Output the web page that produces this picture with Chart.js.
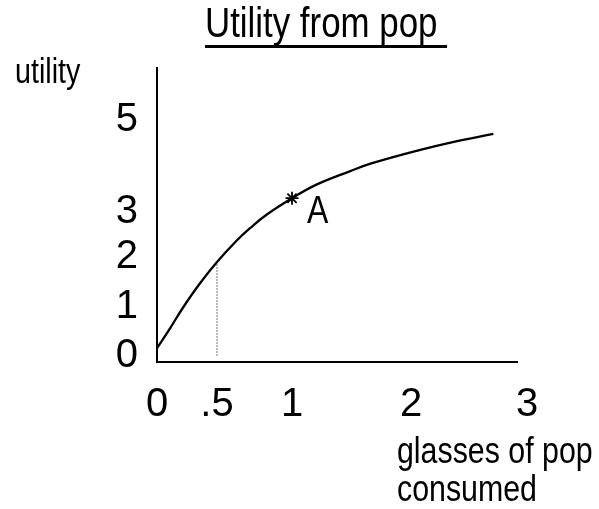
<!DOCTYPE html>
<html>
<head>
<meta charset="utf-8">
<script src="https://cdn.jsdelivr.net/npm/chart.js@4.4.1/dist/chart.umd.min.js"></script>
<style>
  html, body { margin: 0; padding: 0; background: #fff; }
  canvas { display: block; }
</style>
</head>
<body>
<canvas id="chart" width="599" height="509"></canvas>
<script>
// Utility curve: glasses of pop consumed vs. utility
const glasses = [0, 0.11, 0.22, 0.36, 0.5, 0.63, 0.72, 0.83, 1, 1.21, 1.49, 1.66, 2.08, 2.36, 2.71];
const utility = [0.16, 0.57, 1.0, 1.48, 1.9, 2.36, 2.64, 2.94, 3.3, 3.6, 3.89, 4.05, 4.35, 4.52, 4.70];

// Dropped guide from the curve down to the axis at half a glass
const guideGlasses = [0.5, 0.5];
const guideUtility = [0, 1.9];

// Marked point A
const pointAGlasses = [1];
const pointAUtility = [3.3];
const pointALabel = 'A';

// Axis ticks
const xTicks = [0, 0.5, 1, 2, 3];
const xTickLabels = ['0', '.5', '1', '2', '3'];
const yTicks = [0, 1, 2, 3, 5];
const yTickLabels = ['0', '1', '2', '3', '5'];

// Texts
const titleText = 'Utility from pop';
const yAxisText = 'utility';
const xAxisLines = ['glasses of pop', 'consumed'];

const FONT = "'Liberation Sans', Arial, sans-serif";
const NARROW = 0.82; // horizontal squeeze for the condensed captions

// Hand-spaced axes: each tick value sits at its own fraction of the axis,
// values in between are interpolated linearly.
const axisSpacing = {
  x: { values: xTicks, decimals: [0, 0.1667, 0.375, 0.7056, 1.0278] },
  y: { values: yTicks, decimals: [0.0204, 0.1871, 0.3571, 0.5102, 0.8231] }
};

function interpolate(v, from, to) {
  let i = 1;
  while (i < from.length - 1 && v > from[i]) i++;
  const t = (v - from[i - 1]) / (from[i] - from[i - 1]);
  return to[i - 1] + t * (to[i] - to[i - 1]);
}

class SketchScale extends Chart.LinearScale {
  getPixelForValue(value) {
    const s = axisSpacing[this.id];
    return this.getPixelForDecimal(interpolate(value, s.values, s.decimals));
  }
  getValueForPixel(pixel) {
    const s = axisSpacing[this.id];
    return interpolate(this.getDecimalForPixel(pixel), s.decimals, s.values);
  }
}
SketchScale.id = 'sketch';
SketchScale.defaults = Chart.LinearScale.defaults;
Chart.register(SketchScale);

// condensed text: squeezed horizontally around its left edge
function narrowText(ctx, text, x, y, size) {
  ctx.save();
  ctx.font = `${size}px ${FONT}`;
  ctx.translate(x, y);
  ctx.scale(NARROW, 1);
  ctx.fillText(text, 0, 0);
  const w = ctx.measureText(text + ' ').width * NARROW;
  ctx.restore();
  return w;
}

const captions = {
  id: 'captions',
  afterDraw(chart) {
    const ctx = chart.ctx;
    ctx.save();
    ctx.fillStyle = '#000';
    ctx.textAlign = 'left';
    ctx.textBaseline = 'alphabetic';

    // underlined title
    const tw = narrowText(ctx, titleText, 205, 37, 42.5);
    ctx.fillRect(205, 45, tw, 3);

    // axis captions
    narrowText(ctx, yAxisText, 15, 83, 35);
    xAxisLines.forEach((line, i) => narrowText(ctx, line, 397, 463 + i * 38, 37));

    // label beside point A
    const pt = chart.getDatasetMeta(2).data[0];
    narrowText(ctx, pointALabel, pt.x + 15, pt.y + 25, 39);
    ctx.restore();
  }
};

const toPoints = (xs, ys) => xs.map((x, i) => ({ x, y: ys[i] }));

new Chart(document.getElementById('chart'), {
  type: 'line',
  data: {
    datasets: [
      {
        data: toPoints(glasses, utility),
        borderColor: '#000',
        borderWidth: 2.3,
        pointRadius: 0,
        tension: 0.4,
        fill: false,
        clip: false
      },
      {
        data: toPoints(guideGlasses, guideUtility),
        borderColor: '#7a7a7a',
        borderWidth: 1,
        borderDash: [2, 1],
        pointRadius: 0,
        fill: false,
        clip: false
      },
      {
        data: toPoints(pointAGlasses, pointAUtility),
        showLine: false,
        pointStyle: 'star',
        pointRadius: 6.5,
        borderColor: '#000',
        borderWidth: 1.8,
        clip: false
      }
    ]
  },
  options: {
    responsive: false,
    animation: false,
    devicePixelRatio: 1,
    layout: { padding: { left: 97, right: 82, top: 68, bottom: 87 } },
    plugins: {
      legend: { display: false },
      tooltip: { enabled: false },
      title: { display: false }
    },
    scales: {
      x: {
        type: 'sketch',
        position: 'bottom',
        min: 0,
        max: 2.914,
        grid: { display: false, drawTicks: false },
        border: { display: true, color: '#000', width: 2 },
        afterBuildTicks: (scale) => { scale.ticks = xTicks.map(v => ({ value: v })); },
        afterFit: (scale) => { scale.height = 60; },
        ticks: {
          autoSkip: false,
          maxRotation: 0,
          padding: 23,
          color: '#000',
          font: { family: FONT, size: 40, lineHeight: 1 },
          callback: (v, i) => xTickLabels[i]
        }
      },
      y: {
        type: 'sketch',
        position: 'left',
        min: 0,
        max: 6.1,
        grid: { display: false, drawTicks: false },
        border: { display: true, color: '#000', width: 2 },
        afterBuildTicks: (scale) => { scale.ticks = yTicks.map(v => ({ value: v })); },
        afterFit: (scale) => { scale.width = 60; },
        ticks: {
          autoSkip: false,
          padding: 19,
          color: '#000',
          font: { family: FONT, size: 40, lineHeight: 1 },
          callback: (v, i) => yTickLabels[i]
        }
      }
    }
  },
  plugins: [captions]
});
</script>
</body>
</html>
